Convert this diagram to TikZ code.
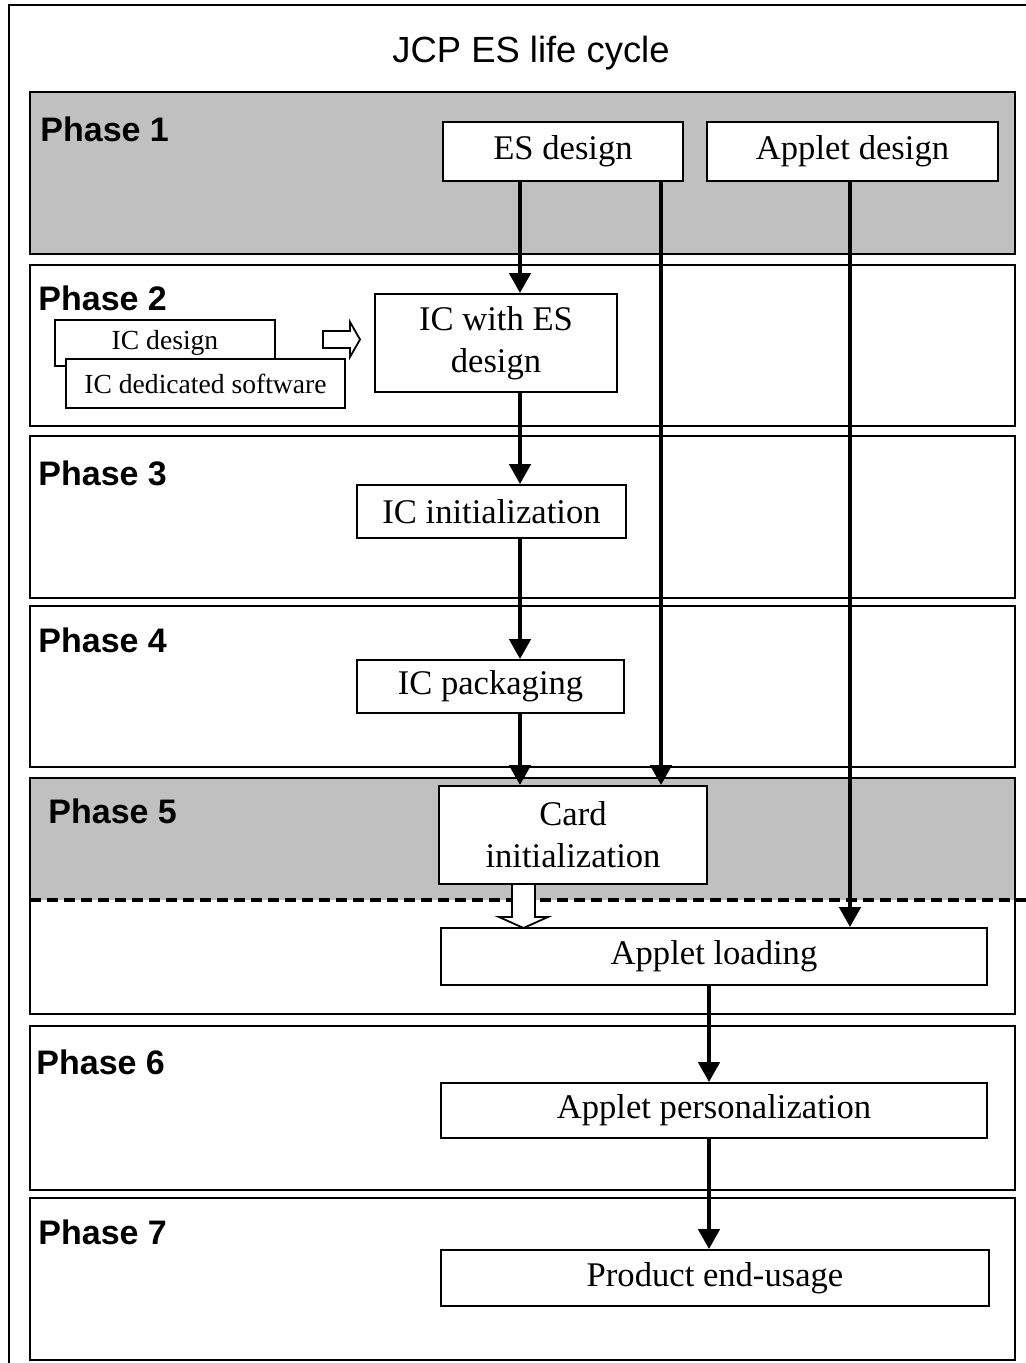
\documentclass[tikz,border=0pt]{standalone}
\usepackage{fontspec}
\setmainfont{Liberation Serif}
\newfontfamily\arialf{Liberation Sans}
\usetikzlibrary{arrows.meta}
\definecolor{bandgray}{HTML}{C0C0C0}
\begin{document}
\begin{tikzpicture}[x=0.5pt,y=-0.5pt,
  band/.style={draw=black,line width=0.9pt},
  box/.style={draw=black,line width=0.9pt,fill=white,inner sep=0pt,align=center,
    font=\fontsize{17.3}{21}\selectfont},
  smallbox/.style={box,font=\fontsize{13.8}{16}\selectfont},
  phaselbl/.style={anchor=base west,inner sep=0pt,font=\arialf\bfseries\fontsize{17}{20}\selectfont},
  arr/.style={line width=2.2pt,-{Triangle[width=10.5pt,length=10pt]}},
  hollow/.style={draw=black,line width=0.9pt,fill=white,line join=miter}]
\useasboundingbox (0,0) rectangle (1026,1363);
% outer frame
\draw[line width=1pt] (9,5) rectangle (1060,1400);
% title
\node[anchor=base,inner sep=0pt,font=\arialf\fontsize{18.2}{22}\selectfont] (title) at (531,63) {JCP ES life cycle};
% phase bands
\draw[band,fill=bandgray] (30,92) rectangle (1015,254);
\draw[band] (30,265) rectangle (1015,426);
\draw[band] (30,436) rectangle (1015,598);
\draw[band] (30,606) rectangle (1015,767);
\fill[bandgray] (30,778) rectangle (1015,900);
\draw[band] (30,778) rectangle (1015,1014);
\draw[line width=2pt,dash pattern=on 5.5pt off 3pt] (30,900) -- (1026,900);
\draw[band] (30,1026) rectangle (1015,1190);
\draw[band] (30,1198) rectangle (1015,1360);
% phase labels
\node[phaselbl] (p1) at (40,142) {Phase 1};
\node[phaselbl] (p2) at (38,311) {Phase 2};
\node[phaselbl] (p3) at (38,485) {Phase 3};
\node[phaselbl] (p4) at (38,652) {Phase 4};
\node[phaselbl] (p5) at (48,823) {Phase 5};
\node[phaselbl] (p6) at (36,1074) {Phase 6};
\node[phaselbl] (p7) at (38,1244) {Phase 7};
% boxes
\node[box,minimum width=120pt,minimum height=29.5pt] (es) at (563,151.5) {\raisebox{-1.5pt}{ES design}};
\node[box,minimum width=145.5pt,minimum height=29.5pt] (ad) at (852.5,151.5) {\raisebox{-1.5pt}{Applet design}};
\node[smallbox,minimum width=110pt,minimum height=23pt] (icd) at (165,343) {\raisebox{-3pt}{IC design}};
\node[smallbox,minimum width=139.5pt,minimum height=24.5pt] (icsw) at (205.5,383.5) {\raisebox{-3pt}{IC dedicated software}};
\node[box,minimum width=121pt,minimum height=49pt] (icw) at (496,343) {IC with ES\\design};
\node[box,minimum width=134.5pt,minimum height=26.5pt] (ici) at (491.5,511.5) {IC initialization};
\node[box,minimum width=133.5pt,minimum height=26.5pt] (icp) at (490.5,686.5) {IC packaging};
\node[box,minimum width=134pt,minimum height=49pt] (ci) at (573,835) {Card\\initialization};
\node[box,minimum width=273pt,minimum height=28.5pt] (al) at (714,956.5) {Applet loading};
\node[box,minimum width=273pt,minimum height=27.5pt] (ap) at (714,1110.5) {Applet personalization};
\node[box,minimum width=274pt,minimum height=28pt] (pe) at (715,1278) {Product end-usage};
% x positions of connectors
\coordinate (xa) at (520,0);
\coordinate (xb) at (661,0);
\coordinate (xc) at (850,0);
\coordinate (xd) at (709,0);
% connectors
\draw[arr] (es.south -| xa) -- (icw.north -| xa);
\draw[arr] (icw.south -| xa) -- (ici.north -| xa);
\draw[arr] (ici.south -| xa) -- (icp.north -| xa);
\draw[arr] (icp.south -| xa) -- (ci.north -| xa);
\draw[arr] (es.south -| xb) -- (ci.north -| xb);
\draw[arr] (ad.south -| xc) -- (al.north -| xc);
\draw[arr] (al.south -| xd) -- (ap.north -| xd);
\draw[arr] (ap.south -| xd) -- (pe.north -| xd);
% hollow arrows
\draw[hollow] (323,331) -- (350,331) -- (350,322) -- (360,339.5) -- (350,357) -- (350,348) -- (323,348) -- cycle;
\draw[hollow] (512,884) -- (512,917) -- (499,917) -- (523.5,928) -- (548,917) -- (535,917) -- (535,884) -- cycle;
\end{tikzpicture}
\end{document}
